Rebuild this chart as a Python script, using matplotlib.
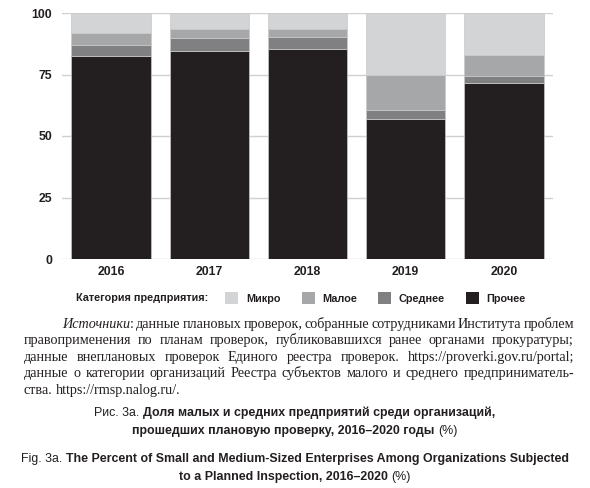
import matplotlib
matplotlib.use("Agg")
import matplotlib.pyplot as plt
import numpy as np

# data (stacked shares, %)
years = ["2016", "2017", "2018", "2019", "2020"]
other = [82.6, 84.6, 85.4, 57.0, 71.7]     # Прочее
medium = [4.5, 5.1, 4.9, 3.7, 2.6]         # Среднее
small = [4.9, 3.9, 3.3, 13.9, 8.6]         # Малое
micro = [8.0, 6.4, 6.4, 25.4, 17.1]        # Микро
yticks = [0, 25, 50, 75, 100]

legend_title = "Категория предприятия:"
legend_names = ["Микро", "Малое", "Среднее", "Прочее"]
colors = {"Микро": "#d3d4d6", "Малое": "#a6a7a9",
          "Среднее": "#808082", "Прочее": "#231f20"}

source_lines = [
    "данные плановых проверок, собранные сотрудниками Института проблем",
    "правоприменения по планам проверок, публиковавшихся ранее органами прокуратуры;",
    "данные внеплановых проверок Единого реестра проверок. https://proverki.gov.ru/portal;",
    "данные о категории организаций Реестра субъектов малого и среднего предприниматель-",
    "ства. https://rmsp.nalog.ru/.",
]

caption_ru = [
    [("Рис. 3а. ", "normal"), ("Доля малых и средних предприятий среди организаций,", "bold")],
    [("прошедших плановую проверку, 2016–2020 годы ", "bold"), ("(%)", "normal")],
]
caption_en = [
    [("Fig. 3a. ", "normal"),
     ("The Percent of Small and Medium-Sized Enterprises Among Organizations Subjected", "bold")],
    [("to a Planned Inspection, 2016–2020 ", "bold"), ("(%)", "normal")],
]

SANS = "Liberation Sans"
SERIF = "Liberation Serif"
INK = "#231f20"

W, H = 590, 488
fig = plt.figure(figsize=(W / 100, H / 100), dpi=100)
fig.patch.set_facecolor("white")

ax = fig.add_axes([62 / W, 1 - 259 / H, (553 - 62) / W, (259 - 13) / H])
x = np.arange(len(years))
bw = 0.81
bottom = np.zeros(len(years))
bars = {}
for name, vals in [("Прочее", other), ("Среднее", medium), ("Малое", small), ("Микро", micro)]:
    bars[name] = ax.bar(x, vals, bw, bottom=bottom, color=colors[name],
                        edgecolor="#c9c9c9", linewidth=0.5, zorder=2, label=name)
    bottom += np.array(vals)

ax.set_xlim(-0.5, 4.5)
ax.set_ylim(0, 100)
ax.set_yticks(yticks)
ax.set_xticks(x)
ax.set_xticklabels(years)
for s in ax.spines.values():
    s.set_visible(False)
ax.yaxis.grid(True, color="#d0d0d0", linewidth=1.0, zorder=0)
ax.set_axisbelow(True)
ax.tick_params(length=0, pad=7)
ax.tick_params(axis="x", pad=5)
for lab in ax.get_xticklabels() + ax.get_yticklabels():
    lab.set_fontfamily(SANS)
    lab.set_fontweight("bold")
    lab.set_fontsize(8.8)
    lab.set_color(INK)

# legend
fig.text(208 / W, 1 - 298 / H, legend_title, ha="right", va="center",
         family=SANS, weight="bold", fontsize=7.8, color=INK)
leg = fig.legend([bars[n] for n in legend_names], legend_names, loc="center left",
                 bbox_to_anchor=(221 / W, 1 - 298 / H), ncol=4, frameon=False,
                 handlelength=1.2, handleheight=1.2, handletextpad=0.7,
                 columnspacing=1.95, borderaxespad=0,
                 prop={"family": SANS, "weight": "bold", "size": 7.8})
for t in leg.get_texts():
    t.set_color(INK)
for h in leg.legend_handles:
    h.set_edgecolor("none")

renderer = fig.canvas.get_renderer()


def put(xp, yp, s, ha="left", **kw):
    t = fig.text(xp / W, 1 - yp / H, s, ha=ha, va="baseline", color=INK, **kw)
    return t, t.get_window_extent(renderer).width


# source paragraph, justified by hand
serif_kw = dict(family=SERIF, fontsize=10.2)
left, right = 24, 574
indent = 38
lead_y = 328
step = 16.4
for i, line in enumerate(source_lines):
    yb = lead_y + i * step
    xs = left
    words = line.split(" ")
    if i == 0:
        xs += indent
        _, w1 = put(xs, yb, "Источники", style="italic", **serif_kw)
        _, w2 = put(xs + w1, yb, ":", **serif_kw)
        xs += w1 + w2
    widths = []
    items = []
    for wd in words:
        t, w = put(0, yb, wd, **serif_kw)
        widths.append(w)
        items.append(t)
    last = i == len(source_lines) - 1
    if last:
        t1, sp = put(0, yb, "a a", **serif_kw)
        t2, aa = put(0, yb, "aa", **serif_kw)
        t1.remove()
        t2.remove()
        gap = sp - aa
        cur = xs
    else:
        if i == 0:
            gap = (right - xs - sum(widths)) / len(words)
            cur = xs + gap
        else:
            gap = (right - xs - sum(widths)) / (len(words) - 1)
            cur = xs
    for t, w in zip(items, widths):
        t.set_x(cur / W)
        cur += w + gap


def centered(yp, pieces, size):
    parts = []
    total = 0
    for s, wt in pieces:
        t, w = put(0, yp, s, family=SANS, weight=wt, fontsize=size)
        parts.append((t, w))
        total += w
    cur = 295 - total / 2
    for t, w in parts:
        t.set_x(cur / W)
        cur += w


centered(416, caption_ru[0], 8.9)
centered(434, caption_ru[1], 8.9)
centered(462, caption_en[0], 8.9)
centered(480, caption_en[1], 8.9)

fig.savefig("out.png", dpi=100, facecolor="white")
